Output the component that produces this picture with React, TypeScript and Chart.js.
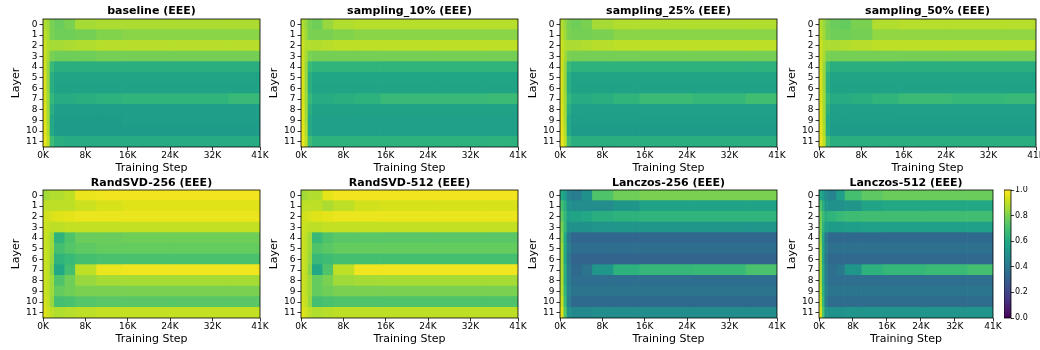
import React, { useEffect, useRef } from "react";
import { Chart, registerables } from "chart.js";

Chart.register(...registerables);
Chart.defaults.font.family = "'DejaVu Sans', sans-serif";
Chart.defaults.color = "#000";

// ---------- data ----------
const LAYERS = ["0", "1", "2", "3", "4", "5", "6", "7", "8", "9", "10", "11"];
// training-step column edges (in thousands of steps)
const STEP_EDGES = [0, 0.6, 1.2, 2, 4, 6, 10, 15, 25, 35, 41];
const X_TICKS = [0, 8, 16, 24, 32, 41];
const CBAR_TICKS = [0, 0.2, 0.4, 0.6, 0.8, 1.0];

const baseline = [
  [0.88, 0.85, 0.80, 0.77, 0.80, 0.86, 0.87, 0.87, 0.87, 0.87],
  [0.90, 0.86, 0.80, 0.78, 0.78, 0.79, 0.81, 0.82, 0.82, 0.82],
  [0.92, 0.88, 0.86, 0.86, 0.87, 0.88, 0.89, 0.89, 0.89, 0.89],
  [0.92, 0.86, 0.80, 0.78, 0.78, 0.78, 0.79, 0.79, 0.79, 0.79],
  [0.93, 0.84, 0.66, 0.62, 0.62, 0.62, 0.62, 0.62, 0.62, 0.62],
  [0.94, 0.84, 0.62, 0.58, 0.58, 0.58, 0.58, 0.58, 0.58, 0.58],
  [0.94, 0.84, 0.62, 0.57, 0.57, 0.57, 0.57, 0.57, 0.57, 0.57],
  [0.94, 0.85, 0.65, 0.61, 0.61, 0.62, 0.63, 0.64, 0.64, 0.66],
  [0.95, 0.85, 0.62, 0.55, 0.55, 0.55, 0.55, 0.55, 0.55, 0.55],
  [0.95, 0.86, 0.60, 0.54, 0.54, 0.54, 0.54, 0.55, 0.55, 0.55],
  [0.96, 0.88, 0.60, 0.54, 0.54, 0.54, 0.54, 0.54, 0.54, 0.54],
  [0.97, 0.90, 0.68, 0.62, 0.61, 0.61, 0.61, 0.61, 0.61, 0.61],
];

const sampling10 = [
  [0.88, 0.84, 0.80, 0.78, 0.84, 0.88, 0.89, 0.89, 0.89, 0.89],
  [0.90, 0.85, 0.80, 0.80, 0.80, 0.81, 0.82, 0.82, 0.82, 0.82],
  [0.92, 0.88, 0.88, 0.88, 0.89, 0.90, 0.90, 0.90, 0.90, 0.90],
  [0.92, 0.86, 0.80, 0.79, 0.79, 0.79, 0.79, 0.79, 0.79, 0.79],
  [0.93, 0.84, 0.66, 0.64, 0.64, 0.64, 0.64, 0.64, 0.64, 0.64],
  [0.94, 0.84, 0.62, 0.59, 0.59, 0.59, 0.59, 0.59, 0.59, 0.59],
  [0.94, 0.84, 0.62, 0.58, 0.58, 0.58, 0.58, 0.58, 0.58, 0.58],
  [0.94, 0.85, 0.65, 0.61, 0.61, 0.62, 0.63, 0.66, 0.66, 0.67],
  [0.95, 0.85, 0.62, 0.57, 0.57, 0.57, 0.57, 0.57, 0.57, 0.57],
  [0.95, 0.86, 0.60, 0.56, 0.56, 0.56, 0.56, 0.56, 0.56, 0.56],
  [0.96, 0.88, 0.60, 0.56, 0.56, 0.56, 0.56, 0.56, 0.56, 0.56],
  [0.97, 0.90, 0.68, 0.63, 0.63, 0.63, 0.63, 0.63, 0.63, 0.63],
];

const sampling25 = [
  [0.88, 0.84, 0.80, 0.78, 0.80, 0.86, 0.88, 0.88, 0.88, 0.88],
  [0.90, 0.85, 0.80, 0.79, 0.79, 0.80, 0.82, 0.82, 0.82, 0.82],
  [0.92, 0.88, 0.87, 0.87, 0.88, 0.89, 0.90, 0.90, 0.90, 0.90],
  [0.92, 0.86, 0.80, 0.79, 0.79, 0.79, 0.79, 0.79, 0.79, 0.79],
  [0.93, 0.84, 0.66, 0.63, 0.63, 0.63, 0.63, 0.63, 0.63, 0.63],
  [0.94, 0.84, 0.62, 0.58, 0.58, 0.58, 0.58, 0.58, 0.58, 0.58],
  [0.94, 0.84, 0.62, 0.57, 0.57, 0.57, 0.57, 0.57, 0.57, 0.57],
  [0.94, 0.85, 0.65, 0.61, 0.61, 0.62, 0.64, 0.67, 0.65, 0.69],
  [0.95, 0.85, 0.62, 0.56, 0.56, 0.56, 0.56, 0.56, 0.56, 0.56],
  [0.95, 0.86, 0.60, 0.55, 0.55, 0.55, 0.55, 0.55, 0.55, 0.55],
  [0.96, 0.88, 0.60, 0.54, 0.54, 0.54, 0.54, 0.54, 0.54, 0.54],
  [0.97, 0.90, 0.68, 0.62, 0.62, 0.62, 0.62, 0.62, 0.62, 0.62],
];

const sampling50 = [
  [0.88, 0.84, 0.80, 0.77, 0.76, 0.80, 0.88, 0.89, 0.89, 0.89],
  [0.90, 0.85, 0.80, 0.78, 0.78, 0.79, 0.83, 0.83, 0.83, 0.83],
  [0.92, 0.88, 0.87, 0.87, 0.88, 0.89, 0.90, 0.90, 0.90, 0.90],
  [0.92, 0.86, 0.80, 0.79, 0.79, 0.79, 0.79, 0.79, 0.79, 0.79],
  [0.93, 0.84, 0.66, 0.62, 0.62, 0.62, 0.62, 0.62, 0.62, 0.62],
  [0.94, 0.84, 0.62, 0.58, 0.58, 0.58, 0.58, 0.58, 0.58, 0.58],
  [0.94, 0.84, 0.62, 0.57, 0.57, 0.57, 0.57, 0.57, 0.57, 0.57],
  [0.94, 0.85, 0.65, 0.61, 0.61, 0.62, 0.64, 0.67, 0.65, 0.66],
  [0.95, 0.85, 0.62, 0.56, 0.56, 0.56, 0.56, 0.56, 0.56, 0.56],
  [0.95, 0.86, 0.60, 0.55, 0.55, 0.55, 0.55, 0.55, 0.55, 0.55],
  [0.96, 0.88, 0.60, 0.54, 0.54, 0.54, 0.54, 0.54, 0.54, 0.54],
  [0.97, 0.90, 0.68, 0.62, 0.62, 0.62, 0.62, 0.62, 0.62, 0.62],
];

const randsvd256 = [
  [0.85, 0.86, 0.88, 0.88, 0.90, 0.97, 0.98, 0.98, 0.98, 0.98],
  [0.90, 0.90, 0.90, 0.90, 0.90, 0.92, 0.94, 0.95, 0.95, 0.95],
  [0.93, 0.93, 0.94, 0.95, 0.96, 0.97, 0.97, 0.97, 0.97, 0.97],
  [0.92, 0.91, 0.90, 0.90, 0.91, 0.91, 0.91, 0.91, 0.91, 0.91],
  [0.92, 0.90, 0.85, 0.64, 0.72, 0.77, 0.77, 0.78, 0.78, 0.78],
  [0.92, 0.90, 0.85, 0.70, 0.73, 0.75, 0.76, 0.76, 0.76, 0.76],
  [0.92, 0.90, 0.84, 0.64, 0.66, 0.70, 0.71, 0.71, 0.71, 0.71],
  [0.92, 0.90, 0.82, 0.60, 0.70, 0.90, 0.97, 0.98, 0.98, 0.98],
  [0.92, 0.90, 0.85, 0.72, 0.78, 0.84, 0.86, 0.86, 0.86, 0.86],
  [0.92, 0.90, 0.85, 0.76, 0.78, 0.80, 0.80, 0.80, 0.80, 0.80],
  [0.93, 0.91, 0.84, 0.70, 0.71, 0.73, 0.74, 0.74, 0.74, 0.74],
  [0.95, 0.93, 0.90, 0.88, 0.89, 0.90, 0.91, 0.91, 0.91, 0.91],
];

const randsvd512 = [
  [0.85, 0.86, 0.88, 0.88, 0.96, 0.98, 0.98, 0.98, 0.98, 0.98],
  [0.90, 0.90, 0.90, 0.90, 0.87, 0.90, 0.93, 0.94, 0.94, 0.94],
  [0.93, 0.93, 0.94, 0.95, 0.96, 0.97, 0.97, 0.97, 0.97, 0.97],
  [0.92, 0.91, 0.90, 0.90, 0.91, 0.91, 0.91, 0.91, 0.91, 0.91],
  [0.92, 0.90, 0.85, 0.66, 0.72, 0.74, 0.74, 0.74, 0.74, 0.74],
  [0.92, 0.90, 0.85, 0.72, 0.74, 0.76, 0.76, 0.76, 0.76, 0.76],
  [0.92, 0.90, 0.84, 0.66, 0.68, 0.70, 0.70, 0.70, 0.70, 0.70],
  [0.92, 0.90, 0.82, 0.60, 0.72, 0.90, 0.98, 0.98, 0.98, 0.98],
  [0.92, 0.90, 0.85, 0.76, 0.80, 0.85, 0.86, 0.86, 0.86, 0.86],
  [0.92, 0.90, 0.85, 0.76, 0.78, 0.80, 0.80, 0.80, 0.80, 0.80],
  [0.93, 0.91, 0.84, 0.70, 0.71, 0.72, 0.72, 0.72, 0.72, 0.72],
  [0.95, 0.93, 0.90, 0.88, 0.89, 0.90, 0.90, 0.90, 0.90, 0.90],
];

const lanczos256 = [
  [0.60, 0.55, 0.45, 0.42, 0.50, 0.72, 0.78, 0.80, 0.80, 0.80],
  [0.70, 0.62, 0.50, 0.48, 0.48, 0.48, 0.52, 0.57, 0.57, 0.57],
  [0.75, 0.65, 0.55, 0.58, 0.60, 0.62, 0.63, 0.64, 0.64, 0.64],
  [0.80, 0.65, 0.50, 0.50, 0.50, 0.51, 0.52, 0.52, 0.52, 0.52],
  [0.82, 0.60, 0.40, 0.33, 0.33, 0.33, 0.33, 0.33, 0.33, 0.33],
  [0.85, 0.60, 0.42, 0.36, 0.36, 0.36, 0.36, 0.36, 0.36, 0.36],
  [0.86, 0.60, 0.40, 0.32, 0.32, 0.32, 0.32, 0.32, 0.32, 0.32],
  [0.87, 0.62, 0.42, 0.34, 0.38, 0.52, 0.63, 0.65, 0.66, 0.71],
  [0.88, 0.62, 0.42, 0.36, 0.36, 0.36, 0.36, 0.36, 0.36, 0.36],
  [0.89, 0.64, 0.44, 0.38, 0.38, 0.38, 0.38, 0.38, 0.38, 0.38],
  [0.92, 0.66, 0.42, 0.34, 0.34, 0.34, 0.34, 0.34, 0.34, 0.34],
  [0.95, 0.72, 0.50, 0.47, 0.47, 0.48, 0.48, 0.48, 0.48, 0.48],
];

const lanczos512 = [
  [0.60, 0.55, 0.48, 0.45, 0.55, 0.70, 0.75, 0.77, 0.77, 0.77],
  [0.72, 0.62, 0.52, 0.50, 0.50, 0.52, 0.58, 0.60, 0.60, 0.60],
  [0.78, 0.68, 0.62, 0.64, 0.66, 0.68, 0.69, 0.69, 0.69, 0.69],
  [0.80, 0.64, 0.55, 0.54, 0.54, 0.55, 0.56, 0.56, 0.56, 0.56],
  [0.82, 0.60, 0.40, 0.34, 0.34, 0.34, 0.34, 0.34, 0.34, 0.34],
  [0.85, 0.60, 0.42, 0.37, 0.37, 0.37, 0.37, 0.37, 0.37, 0.37],
  [0.86, 0.60, 0.40, 0.34, 0.34, 0.34, 0.34, 0.34, 0.34, 0.34],
  [0.87, 0.62, 0.42, 0.36, 0.40, 0.52, 0.63, 0.65, 0.67, 0.70],
  [0.88, 0.62, 0.42, 0.36, 0.36, 0.36, 0.36, 0.36, 0.36, 0.36],
  [0.90, 0.64, 0.44, 0.39, 0.39, 0.39, 0.39, 0.39, 0.39, 0.39],
  [0.92, 0.66, 0.42, 0.35, 0.35, 0.35, 0.35, 0.35, 0.35, 0.35],
  [0.95, 0.72, 0.52, 0.50, 0.50, 0.51, 0.51, 0.51, 0.51, 0.51],
];

const PANELS = [
  { title: "baseline (EEE)", values: baseline, row: 0, col: 0 },
  { title: "sampling_10% (EEE)", values: sampling10, row: 0, col: 1 },
  { title: "sampling_25% (EEE)", values: sampling25, row: 0, col: 2 },
  { title: "sampling_50% (EEE)", values: sampling50, row: 0, col: 3 },
  { title: "RandSVD-256 (EEE)", values: randsvd256, row: 1, col: 0 },
  { title: "RandSVD-512 (EEE)", values: randsvd512, row: 1, col: 1 },
  { title: "Lanczos-256 (EEE)", values: lanczos256, row: 1, col: 2 },
  { title: "Lanczos-512 (EEE)", values: lanczos512, row: 1, col: 3 },
];

// ---------- layout ----------
const COL_LEFT = [43, 301, 560, 819];
const ROW_TOP = [19, 190];
const TITLE_PAD = [
  { top: 5, bottom: 0.8 },
  { top: 6.8, bottom: 0 },
];
const TITLE_H = [19, 20];
const PLOT_W = 217;
const PLOT_W_LAST_BOTTOM = 174;
const PLOT_H = 128;
const Y_AXIS_W = 40;
const X_AXIS_H = 30;
const RIGHT_PAD = 14;
const CBAR = { left: 1004, width: 7, axisW: 30 };

// ---------- viridis colormap ----------
const VIRIDIS = [
  "#440154", "#481668", "#482475", "#453781", "#414487", "#3b528b", "#355f8d",
  "#2f6c8e", "#2a788e", "#25848e", "#21918c", "#1f9e89", "#22a884", "#35b779",
  "#44bf70", "#5ec962", "#7ad151", "#a0da39", "#bddf26", "#dfe318", "#fde725",
];
function hexToRgb(h: string) {
  return [parseInt(h.slice(1, 3), 16), parseInt(h.slice(3, 5), 16), parseInt(h.slice(5, 7), 16)];
}
const VIR_RGB = VIRIDIS.map(hexToRgb);
function viridis(v: number) {
  const t = Math.max(0, Math.min(1, v)) * (VIR_RGB.length - 1);
  const i = Math.min(Math.floor(t), VIR_RGB.length - 2);
  const f = t - i;
  const a = VIR_RGB[i];
  const b = VIR_RGB[i + 1];
  const c = a.map((x, k) => Math.round(x + (b[k] - x) * f));
  return `rgb(${c[0]},${c[1]},${c[2]})`;
}

const framePlugin = {
  id: "frame",
  afterDraw(chart: any) {
    const { ctx, chartArea: a } = chart;
    ctx.save();
    ctx.strokeStyle = "#000";
    ctx.lineWidth = 0.8;
    ctx.strokeRect(a.left, a.top, a.right - a.left, a.bottom - a.top);
    ctx.restore();
  },
};

function HeatPanel({ p }: { p: any }) {
  const ref = useRef<HTMLCanvasElement>(null);
  const plotW = p.row === 1 && p.col === 3 ? PLOT_W_LAST_BOTTOM : PLOT_W;
  const titleH = TITLE_H[p.row];
  const left = COL_LEFT[p.col] - Y_AXIS_W;
  const top = ROW_TOP[p.row] - titleH;
  const w = Y_AXIS_W + plotW + RIGHT_PAD;
  const h = titleH + PLOT_H + X_AXIS_H;

  useEffect(() => {
    const datasets = STEP_EDGES.slice(0, -1).map((x0, c) => ({
      data: LAYERS.map(() => [x0, STEP_EDGES[c + 1]]),
      backgroundColor: p.values.map((r: number[]) => viridis(r[c])),
      borderWidth: 0,
      barPercentage: 1,
      categoryPercentage: 1,
      grouped: false,
    }));
    const chart = new Chart(ref.current!, {
      type: "bar",
      data: { labels: LAYERS, datasets },
      options: {
        indexAxis: "y",
        responsive: false,
        animation: false,
        events: [],
        layout: { padding: { left: 0, right: RIGHT_PAD, top: 0, bottom: 0 } },
        plugins: {
          legend: { display: false },
          tooltip: { enabled: false },
          title: {
            display: true,
            text: p.title,
            fullSize: false,
            color: "#000",
            font: { size: 11, weight: "bold" },
            padding: TITLE_PAD[p.row],
          },
        },
        scales: {
          x: {
            type: "linear",
            min: 0,
            max: 41,
            afterBuildTicks: (s: any) => {
              s.ticks = X_TICKS.map((v) => ({ value: v }));
            },
            afterFit: (s: any) => {
              s.height = X_AXIS_H;
              s.paddingLeft = 0;
              s.paddingRight = 0;
            },
            ticks: {
              callback: (v: any) => `${v}K`,
              font: { size: 9 },
              color: "#000",
              padding: 0,
              maxRotation: 0,
              autoSkip: false,
            },
            grid: { drawOnChartArea: false, drawTicks: true, tickLength: 3.5, color: "#000", lineWidth: 0.8 },
            border: { display: false },
            title: { display: true, text: "Training Step", color: "#000", font: { size: 11 }, padding: { top: 0, bottom: 2 } },
          },
          y: {
            type: "category",
            offset: true,
            afterFit: (s: any) => {
              s.width = Y_AXIS_W;
              s.paddingTop = 0;
              s.paddingBottom = 0;
            },
            ticks: { font: { size: 9 }, color: "#000", padding: 2, autoSkip: false },
            grid: { offset: false, drawOnChartArea: false, drawTicks: true, tickLength: 3.5, color: "#000", lineWidth: 0.8 },
            border: { display: false },
            title: { display: true, text: "Layer", color: "#000", font: { size: 11 }, padding: { top: 6.5, bottom: 0 } },
          },
        },
      },
      plugins: [framePlugin],
    } as any);
    return () => chart.destroy();
  }, []);

  return (
    <canvas
      ref={ref}
      width={w}
      height={h}
      style={{ position: "absolute", left, top, width: w, height: h }}
    />
  );
}

function ColorBar() {
  const ref = useRef<HTMLCanvasElement>(null);
  const padV = 4;
  const left = CBAR.left;
  const top = ROW_TOP[1] - padV;
  const w = CBAR.width + CBAR.axisW;
  const h = PLOT_H + padV * 2;
  useEffect(() => {
    const chart = new Chart(ref.current!, {
      type: "bar",
      data: {
        labels: [""],
        datasets: [
          {
            data: [[CBAR_TICKS[0], CBAR_TICKS[CBAR_TICKS.length - 1]]],
            backgroundColor: (c: any) => {
              const a = c.chart.chartArea;
              if (!a) return VIRIDIS[10];
              const g = c.chart.ctx.createLinearGradient(0, a.bottom, 0, a.top);
              VIRIDIS.forEach((col, i) => g.addColorStop(i / (VIRIDIS.length - 1), col));
              return g;
            },
            borderWidth: 0,
            barPercentage: 1,
            categoryPercentage: 1,
          },
        ],
      },
      options: {
        responsive: false,
        animation: false,
        events: [],
        layout: { padding: { left: 0, right: 0, top: padV, bottom: padV } },
        plugins: { legend: { display: false }, tooltip: { enabled: false } },
        scales: {
          x: { display: false },
          y: {
            position: "right",
            min: 0,
            max: 1,
            afterBuildTicks: (s: any) => {
              s.ticks = CBAR_TICKS.map((v) => ({ value: v }));
            },
            afterFit: (s: any) => {
              s.width = CBAR.axisW;
              s.paddingTop = 0;
              s.paddingBottom = 0;
            },
            ticks: { callback: (v: any) => Number(v).toFixed(1), font: { size: 8 }, color: "#000", padding: 1 },
            grid: { drawOnChartArea: false, drawTicks: true, tickLength: 3, color: "#000", lineWidth: 0.8 },
            border: { display: false },
          },
        },
      },
      plugins: [framePlugin],
    } as any);
    return () => chart.destroy();
  }, []);
  return (
    <canvas ref={ref} width={w} height={h} style={{ position: "absolute", left, top, width: w, height: h }} />
  );
}

export default function App() {
  return (
    <div
      style={{
        position: "absolute",
        left: 0,
        top: 0,
        width: 1040,
        height: 350,
        overflow: "hidden",
        background: "#fff",
      }}
    >
      {PANELS.map((p) => (
        <HeatPanel key={p.title} p={p} />
      ))}
      <ColorBar />
    </div>
  );
}
